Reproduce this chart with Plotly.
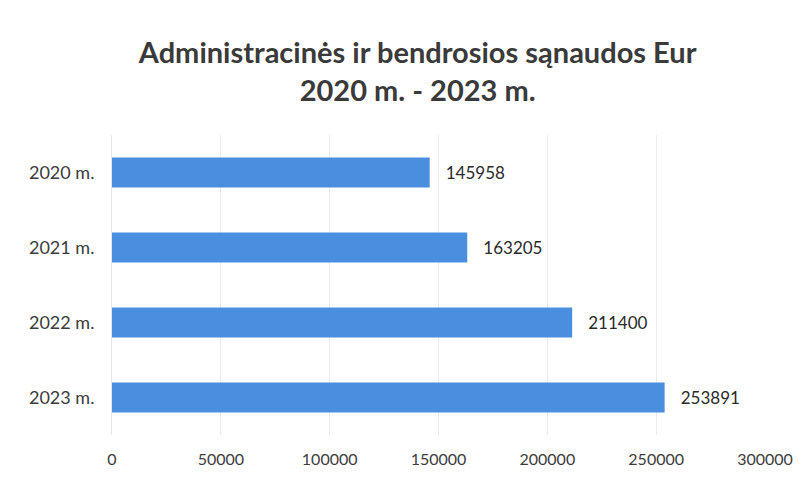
import plotly.graph_objects as go

# Data
years = ["2020 m.", "2021 m.", "2022 m.", "2023 m."]
costs = [145958, 163205, 211400, 253891]
x_ticks = [0, 50000, 100000, 150000, 200000, 250000, 300000]

title_text = "Administracinės ir bendrosios sąnaudos Eur<br>2020 m. - 2023 m."

fig = go.Figure(
    go.Bar(
        x=costs,
        y=years,
        orientation="h",
        marker=dict(color="#4a8fdf", line=dict(width=0)),
        width=0.4,
        text=["   " + str(v) for v in costs],
        textposition="outside",
        textfont=dict(size=17, color="#2a2a2a", family="Lato, Carlito, sans-serif"),
        cliponaxis=False,
    )
)

# the page puts the figure 8px in from the top-left corner, so margins are shifted by that
fig.update_layout(
    width=808,
    height=481,
    paper_bgcolor="white",
    plot_bgcolor="white",
    margin=dict(l=104, r=51, t=127, b=54, autoexpand=False),
    showlegend=False,
    title=dict(
        text=title_text,
        x=0.507,
        xanchor="center",
        y=0.885,
        yanchor="top",
        font=dict(size=29, color="#3a3a3a", family="Lato, Carlito, sans-serif", weight="bold"),
    ),
    font=dict(family="Lato, Carlito, sans-serif", color="#333333"),
)

fig.update_xaxes(
    range=[0, 300000],
    tickvals=x_ticks,
    ticktext=[str(v) for v in x_ticks],
    showgrid=True,
    gridcolor="#ececec",
    gridwidth=1,
    zeroline=False,
    showline=False,
    automargin=False,
    tickfont=dict(size=16, color="#3c3c3c"),
    ticklabelstandoff=13,
)

fig.update_yaxes(
    autorange="reversed",
    showgrid=False,
    showline=True,
    linecolor="#e6e6e6",
    automargin=False,
    tickfont=dict(size=18, color="#3c3c3c"),
    ticklabelstandoff=13,
)

fig.write_html("out.html")
